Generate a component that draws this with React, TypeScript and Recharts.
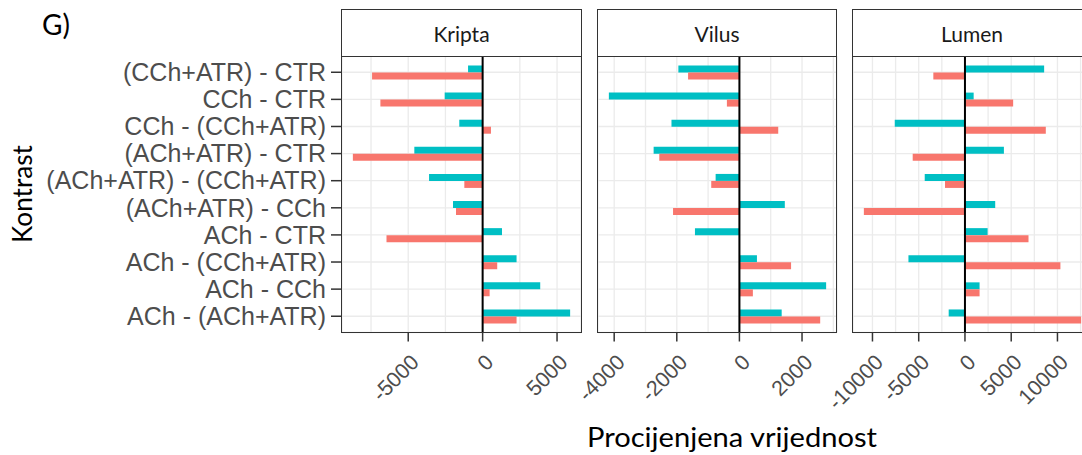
import React from 'react';
import { BarChart, Bar, XAxis, YAxis, CartesianGrid, ReferenceLine } from 'recharts';

const categories = [
  '(CCh+ATR) - CTR',
  'CCh - CTR',
  'CCh - (CCh+ATR)',
  '(ACh+ATR) - CTR',
  '(ACh+ATR) - (CCh+ATR)',
  '(ACh+ATR) - CCh',
  'ACh - CTR',
  'ACh - (CCh+ATR)',
  'ACh - CCh',
  'ACh - (ACh+ATR)',
];

const kriptaTeal = [-980, -2550, -1570, -4590, -3600, -1990, 1300, 2280, 3870, 5880];
const kriptaSalmon = [-7430, -6870, 560, -8720, -1230, -1790, -6460, 980, 470, 2280];
const vilusTeal = [-1950, -4170, -2170, -2740, -760, 1450, -1420, 560, 2770, 1350];
const vilusSalmon = [-1640, -400, 1240, -2560, -900, -2120, 0, 1650, 430, 2580];
const lumenTeal = [8560, 940, -7590, 4210, -4350, 3270, 2450, -6110, 1580, -1760];
const lumenSalmon = [-3420, 5210, 8740, -5650, -2160, -10930, 6870, 10320, 1580, 12560];

const kriptaMajor = [-5000, 0, 5000];
const kriptaMinor = [-7500, -2500, 2500];
const vilusMajor = [-4000, -2000, 0, 2000];
const vilusMinor = [-3000, -1000, 1000, 3000];
const lumenMajor = [-10000, -5000, 0, 5000, 10000];
const lumenMinor = [-7500, -2500, 2500, 7500, 12500];

const facetTitles = ['Kripta', 'Vilus', 'Lumen'];

const TEAL = '#00BFC4';
const SALMON = '#F8766D';
const AXIS_FONT = "'Liberation Sans', Arial, sans-serif";
const TITLE_FONT = "Lato, 'Open Sans', sans-serif";

const PANEL_TOP = 56;
const PANEL_BOTTOM = 332.5;
const STRIP_TOP = 10;
const PANEL_W = 239;
const CHART_H = 455;
const XAXIS_H = 100;

function expandDomain(a: number[], b: number[]): [number, number] {
  const all = [...a, ...b, 0];
  const mn = Math.min(...all);
  const mx = Math.max(...all);
  const r = mx - mn;
  return [mn - 0.05 * r, mx + 0.05 * r];
}

function buildRows(teal: number[], salmon: number[]) {
  return categories.map((c, i) => ({ cat: c, teal: teal[i], salmon: salmon[i] }));
}

const makeXTick = (major: number[]) => (props: any) => {
  const { x, y, payload } = props;
  if (!major.includes(payload.value)) return <g />;
  const ax = x + 12;
  const ay = y + 31;
  return (
    <g>
      <line x1={x} x2={x} y1={y} y2={y + 9} stroke="#333333" strokeWidth={1.5} />
      <text
        x={ax}
        y={ay}
        transform={`rotate(-45 ${ax} ${ay})`}
        textAnchor="end"
        fill="#4D4D4D"
        fontSize={21.5}
        fontFamily={AXIS_FONT}
      >
        {String(payload.value)}
      </text>
    </g>
  );
};

const YTick = (props: any) => {
  const { x, y, payload } = props;
  return (
    <g>
      <line x1={x - 11} x2={x} y1={y} y2={y} stroke="#333333" strokeWidth={1.5} />
      <text
        x={x - 16}
        y={y}
        dy="0.35em"
        textAnchor="end"
        fill="#4D4D4D"
        fontSize={25}
        fontFamily={AXIS_FONT}
      >
        {payload.value}
      </text>
    </g>
  );
};

type PanelProps = {
  plotLeft: number;
  teal: number[];
  salmon: number[];
  major: number[];
  minor: number[];
  title: string;
  showY: boolean;
};

function Panel({ plotLeft, teal, salmon, major, minor, title, showY }: PanelProps) {
  const rows = buildRows(teal, salmon);
  const dom = expandDomain(teal, salmon);
  const ticks = [...major, ...minor].filter((t) => t >= dom[0] && t <= dom[1]).sort((a, b) => a - b);
  const leftPad = showY ? plotLeft : 70;
  const chartLeft = showY ? 0 : plotLeft - 70;
  const rightPad = 60;
  const chartW = leftPad + PANEL_W + rightPad;
  const plotH = PANEL_BOTTOM - PANEL_TOP;
  const band = plotH / 10.2;
  return (
    <>
      <div style={{ position: 'absolute', left: chartLeft, top: 0 }}>
        <BarChart
          width={chartW}
          height={CHART_H}
          data={rows}
          layout="vertical"
          barCategoryGap="25%"
          barGap={0}
          margin={{ top: PANEL_TOP, right: rightPad, bottom: CHART_H - PANEL_BOTTOM - XAXIS_H, left: showY ? 0 : leftPad }}
        >
          <CartesianGrid stroke="#EBEBEB" strokeWidth={1.3} />
          <XAxis
            type="number"
            domain={dom}
            ticks={ticks}
            interval={0}
            allowDataOverflow
            height={XAXIS_H}
            tickSize={0}
            tickMargin={0}
            axisLine={false}
            tick={makeXTick(major)}
          />
          <YAxis
            type="category"
            dataKey="cat"
            width={showY ? plotLeft : 0}
            hide={!showY}
            interval={0}
            tickSize={0}
            tickMargin={0}
            axisLine={false}
            padding={{ top: band * 0.1, bottom: band * 0.1 }}
            tick={YTick}
          />
          <Bar dataKey="teal" fill={TEAL} isAnimationActive={false} />
          <Bar dataKey="salmon" fill={SALMON} isAnimationActive={false} />
          <ReferenceLine x={0} stroke="#000000" strokeWidth={2} />
        </BarChart>
      </div>
      <div
        style={{
          position: 'absolute',
          left: plotLeft - 0.75,
          top: PANEL_TOP - 0.75,
          width: PANEL_W + 1.5,
          height: plotH + 1.5,
          border: '1.5px solid #333333',
          boxSizing: 'border-box',
          pointerEvents: 'none',
        }}
      />
      <div
        style={{
          position: 'absolute',
          left: plotLeft - 0.75,
          top: STRIP_TOP - 0.75,
          width: PANEL_W + 1.5,
          height: PANEL_TOP - STRIP_TOP + 1.5,
          border: '1.5px solid #333333',
          boxSizing: 'border-box',
          background: '#FFFFFF',
          display: 'flex',
          alignItems: 'center',
          justifyContent: 'center',
          fontFamily: TITLE_FONT,
          fontSize: 21,
          color: '#1A1A1A',
        }}
      >
        {title}
      </div>
    </>
  );
}

export default function App() {
  return (
    <div
      style={{
        position: 'absolute',
        left: 0,
        top: 0,
        width: 1082,
        height: 455,
        overflow: 'hidden',
        background: '#FFFFFF',
      }}
    >
      <Panel plotLeft={342} teal={kriptaTeal} salmon={kriptaSalmon} major={kriptaMajor} minor={kriptaMinor} title={facetTitles[0]} showY />
      <Panel plotLeft={597.5} teal={vilusTeal} salmon={vilusSalmon} major={vilusMajor} minor={vilusMinor} title={facetTitles[1]} showY={false} />
      <Panel plotLeft={852.5} teal={lumenTeal} salmon={lumenSalmon} major={lumenMajor} minor={lumenMinor} title={facetTitles[2]} showY={false} />
      <svg width={1082} height={455} style={{ position: 'absolute', left: 0, top: 0, pointerEvents: 'none' }}>
        <text x={42} y={35} fontFamily={TITLE_FONT} fontSize={28} fill="#000000">G)</text>
        <text
          x={32}
          y={194}
          transform="rotate(-90 32 194)"
          textAnchor="middle"
          fontFamily={TITLE_FONT}
          fontSize={26}
          textLength={98}
          lengthAdjust="spacingAndGlyphs"
          fill="#000000"
        >
          Kontrast
        </text>
        <text
          x={587}
          y={447}
          fontFamily={TITLE_FONT}
          fontSize={27}
          textLength={290}
          lengthAdjust="spacingAndGlyphs"
          fill="#000000"
        >
          Procijenjena vrijednost
        </text>
      </svg>
    </div>
  );
}
